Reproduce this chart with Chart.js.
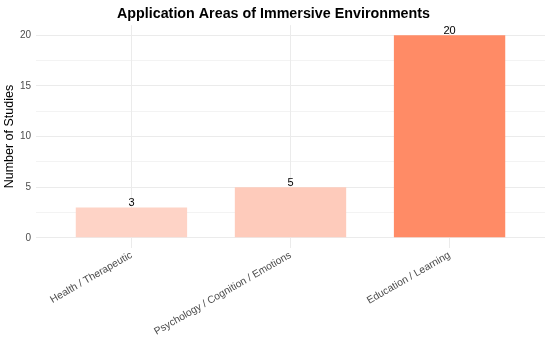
<!DOCTYPE html>
<html>
<head>
<meta charset="utf-8">
<script src="https://cdn.jsdelivr.net/npm/chart.js@4.4.1/dist/chart.umd.min.js"></script>
<style>
  html, body { margin: 0; padding: 0; background: #fff; }
  #wrap { width: 550px; height: 339px; }
</style>
</head>
<body>
<div id="wrap"><canvas id="chart" width="550" height="339"></canvas></div>
<script>
// Data
const categories = ['Health / Therapeutic', 'Psychology / Cognition / Emotions', 'Education / Learning'];
const studies = [3, 5, 20];
const barColors = ['#FED3C6', '#FECBBB', '#FF8B66'];
const yTicks = [0, 2.5, 5, 7.5, 10, 12.5, 15, 17.5, 20];

const font = "'Liberation Sans', Arial, sans-serif";

// value labels above bars
const valueLabels = {
    id: 'valueLabels',
    afterDatasetsDraw(chart) {
        const ctx = chart.ctx;
        const meta = chart.getDatasetMeta(0);
        ctx.save();
        ctx.font = `11px ${font}`;
        ctx.fillStyle = '#000';
        ctx.textAlign = 'center';
        ctx.textBaseline = 'bottom';
        meta.data.forEach((bar, i) => {
            ctx.fillText(studies[i], bar.x, bar.y + 1);
        });
        ctx.restore();
    }
};

new Chart(document.getElementById('chart'), {
    type: 'bar',
    data: {
        datasets: [{
            data: studies.map((v, i) => ({ x: i + 1, y: v })),
            backgroundColor: barColors,
            borderWidth: 0,
            barPercentage: 0.7,
            categoryPercentage: 1
        }]
    },
    options: {
        responsive: false,
        animation: false,
        layout: { padding: { left: 2, right: 5, top: 0, bottom: 0 } },
        plugins: {
            legend: { display: false },
            tooltip: { enabled: false },
            title: {
                display: true,
                text: 'Application Areas of Immersive Environments',
                color: '#000',
                font: { family: font, size: 14.3, weight: 'bold' },
                padding: { top: 5, bottom: 3 }
            }
        },
        scales: {
            x: {
                type: 'linear',
                min: 0.4,
                max: 3.6,
                offset: false,
                afterBuildTicks: (s) => { s.ticks = categories.map((c, i) => ({ value: i + 1 })); },
                afterFit: (s) => { s.height = 91; },
                border: { display: false },
                grid: { color: '#ebebeb', drawTicks: false, offset: false },
                ticks: {
                    minRotation: 30,
                    maxRotation: 30,
                    padding: 1,
                    color: '#4d4d4d',
                    font: { family: font, size: 10.3 },
                    callback: (v) => categories[v - 1]
                }
            },
            y: {
                min: -1,
                max: 21,
                afterBuildTicks: (s) => { s.ticks = yTicks.map(v => ({ value: v })); },
                afterFit: (s) => { s.width = 34; },
                border: { display: false },
                grid: {
                    color: '#ebebeb',
                    drawTicks: false,
                    lineWidth: (c) => (c.tick && c.tick.value % 5 === 0) ? 1 : 0.6
                },
                ticks: {
                    padding: 5,
                    color: '#4d4d4d',
                    font: { family: font, size: 10 },
                    callback: (v) => v % 5 === 0 ? v : ''
                },
                title: {
                    display: true,
                    text: 'Number of Studies',
                    color: '#000',
                    font: { family: font, size: 12.5 },
                    padding: { top: 0, bottom: 2 }
                }
            }
        }
    },
    plugins: [valueLabels]
});
</script>
</body>
</html>
